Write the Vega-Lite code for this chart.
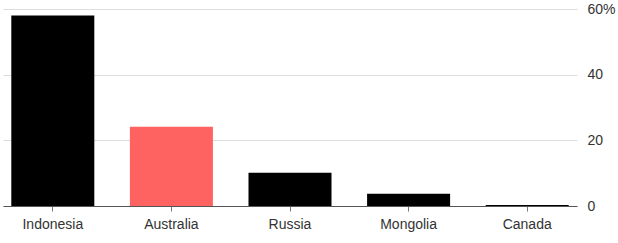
{
  "$schema": "https://vega.github.io/schema/vega-lite/v6.json",
  "autosize": "none",
  "width": 574,
  "height": 197,
  "padding": {"left": 3, "top": 9, "right": 41, "bottom": 37},
  "background": "white",
  "config": {"view": {"stroke": null}, "font": "Liberation Sans"},
  "data": {"values": [
    {"country": "Indonesia", "share": 58.0, "highlight": "no"},
    {"country": "Australia", "share": 24.1, "highlight": "yes"},
    {"country": "Russia", "share": 10.1, "highlight": "no"},
    {"country": "Mongolia", "share": 3.7, "highlight": "no"},
    {"country": "Canada", "share": 0.3, "highlight": "no"}
  ]},
  "mark": {"type": "bar"},
  "encoding": {
    "x": {
      "field": "country", "type": "nominal", "sort": null,
      "scale": {"paddingInner": 0.3, "paddingOuter": 0.07},
      "axis": {"title": null, "labelAngle": 0, "labelFontSize": 14, "labelColor": "#333", "labelPadding": 6,
               "domainColor": "#555", "domainWidth": 1, "tickColor": "#777", "tickSize": 5, "grid": false}
    },
    "y": {
      "field": "share", "type": "quantitative",
      "scale": {"domain": [0, 60], "nice": false},
      "axis": {"orient": "right", "title": null, "values": [0, 20, 40, 60], "domain": false, "ticks": false,
               "labelPadding": 10, "labelFontSize": 14, "labelColor": "#333",
               "labelExpr": "datum.value == 60 ? '60%' : datum.label",
               "gridColor": "#dddddd", "gridWidth": 1}
    },
    "color": {
      "field": "highlight", "type": "nominal",
      "scale": {"domain": ["no", "yes"], "range": ["#000000", "#ff6361"]},
      "legend": null
    }
  }
}
